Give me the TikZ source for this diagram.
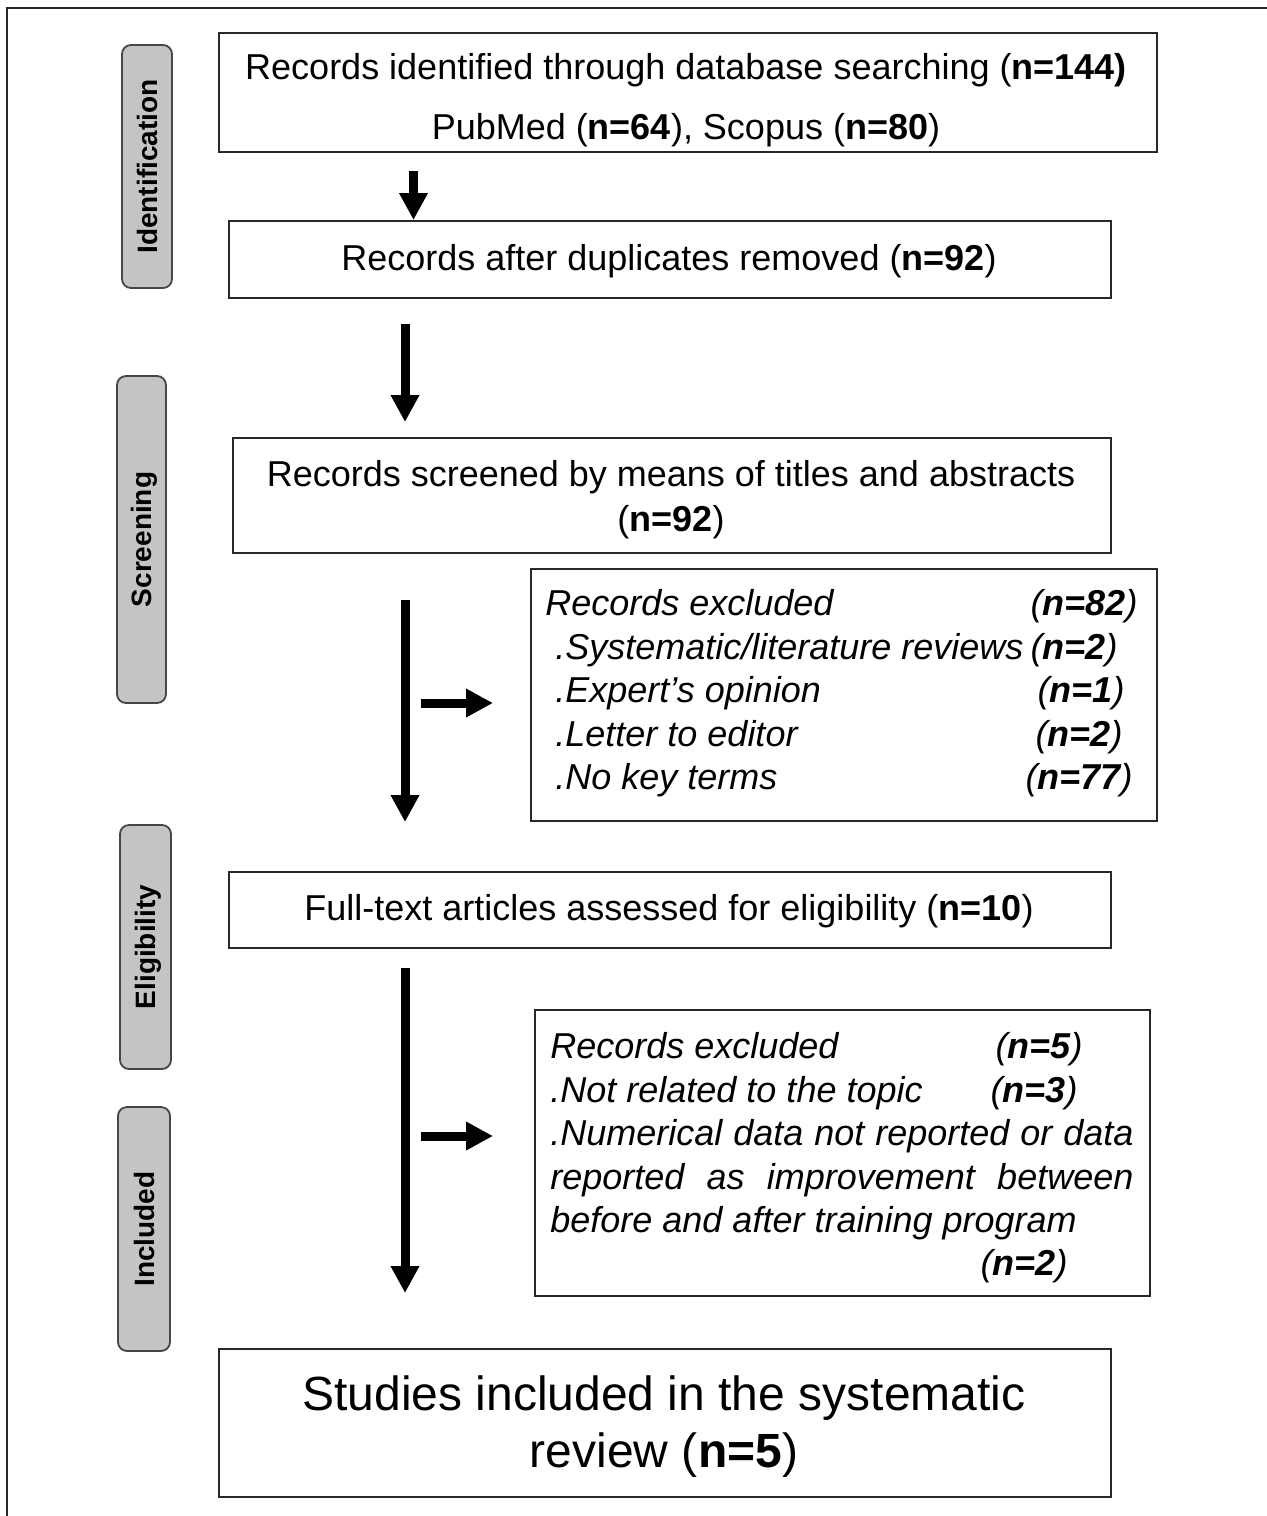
\documentclass[tikz,border=0pt]{standalone}
\usepackage{fontspec}
\setmainfont{Liberation Sans}
\usetikzlibrary{arrows.meta}
\definecolor{phasefill}{RGB}{196,196,196}
\definecolor{phaseline}{RGB}{70,70,70}
\definecolor{boxline}{RGB}{40,40,40}
\newcommand{\nb}[1]{\textbf{#1}}
\begin{document}
\begin{tikzpicture}[x=0.5pt,y=-0.5pt,
  box/.style={draw=boxline, line width=1pt, inner sep=0pt, anchor=north west, fill=white},
  phase/.style={draw=phaseline, line width=0.9pt, fill=phasefill, rounded corners=4.5pt, inner sep=0pt,
    rotate=90, font=\fontsize{14}{16}\selectfont\bfseries, text height=10pt, text depth=0pt},
  txt/.style={inner sep=0pt, text height=12.9pt, text depth=0pt, font=\fontsize{18}{21}\selectfont},
  itx/.style={txt, font=\fontsize{18}{21}\selectfont\itshape},
  bigtxt/.style={inner sep=0pt, text height=17.2pt, text depth=0pt, font=\fontsize{24}{28}\selectfont},
  flow/.style={line width=4.5pt, -{Triangle[width=13.5pt,length=13.5pt]}},
  frame/.style={line width=1pt, draw=boxline}
]
\useasboundingbox (0,0) rectangle (1267,1516);
% outer frame (top and left edges)
\draw[frame] (7,1516) -- (7,8) -- (1267,8);

% phase labels
\node[phase, minimum width=121.5pt, minimum height=25pt] (pid) at (147,166.5) {Identification};
\node[phase, minimum width=163.5pt, minimum height=24.5pt] (pscr) at (141.5,539.5) {Screening};
\node[phase, minimum width=122pt, minimum height=25.5pt] (pelg) at (145.5,947) {Eligibility};
\node[phase, minimum width=122pt, minimum height=26pt] (pinc) at (144,1229) {Included};

% boxes
\node[box, minimum width=469pt, minimum height=59.5pt] (b1) at (218,32) {};
\node[box, minimum width=441pt, minimum height=38.5pt] (b2) at (228,220) {};
\node[box, minimum width=439pt, minimum height=57.5pt] (b3) at (232,437) {};
\node[box, minimum width=313pt, minimum height=126pt] (b4) at (530,568) {};
\node[box, minimum width=441pt, minimum height=38pt] (b5) at (228,871) {};
\node[box, minimum width=307.5pt, minimum height=143pt] (b6) at (534,1009) {};
\node[box, minimum width=446pt, minimum height=74pt] (b7) at (218,1348) {};

% box texts
\node[txt] (t1a) at (686,67) {Records identified through database searching (\nb{n=144)}};
\node[txt] (t1b) at (686,127) {PubMed (\nb{n=64}), Scopus (\nb{n=80})};
\node[txt] (t2) at (669,258) {Records after duplicates removed (\nb{n=92})};
\node[txt] (t3a) at (671,474) {Records screened by means of titles and abstracts};
\node[txt] (t3b) at (671,519) {(\nb{n=92})};
\node[txt] (t5) at (669,908) {Full-text articles assessed for eligibility (\nb{n=10})};
\node[bigtxt] (t7a) at (664,1393) {Studies included in the systematic};
\node[bigtxt] (t7b) at (664,1450) {review (\nb{n=5})};

% exclusion box 1
\node[itx, anchor=west] (e1a) at (545,603) {Records excluded};
\node[itx, anchor=east] (e1b) at (1138,603) {(\nb{n=82})};
\node[itx, anchor=west] (e2a) at (555,647) {.Systematic/literature reviews};
\node[itx, anchor=east] (e2b) at (1118,647) {(\nb{n=2})};
\node[itx, anchor=west] (e3a) at (555,690) {.Expert’s opinion};
\node[itx, anchor=east] (e3b) at (1125,690) {(\nb{n=1})};
\node[itx, anchor=west] (e4a) at (555,734) {.Letter to editor};
\node[itx, anchor=east] (e4b) at (1123,734) {(\nb{n=2})};
\node[itx, anchor=west] (e5a) at (555,777) {.No key terms};
\node[itx, anchor=east] (e5b) at (1133,777) {(\nb{n=77})};

% exclusion box 2
\node[itx, anchor=west] (f1a) at (550,1046) {Records excluded};
\node[itx, anchor=east] (f1b) at (1083,1046) {(\nb{n=5})};
\node[itx, anchor=west] (f2a) at (550,1090) {.Not related to the topic};
\node[itx, anchor=east] (f2b) at (1078,1090) {(\nb{n=3})};
\node[itx, anchor=west] (f3) at (550,1133) {\makebox[291.5pt][s]{.Numerical data not reported or data}};
\node[itx, anchor=west] (f4) at (550,1177) {\makebox[291.5pt][s]{reported as improvement between}};
\node[itx, anchor=west] (f5) at (550,1220) {before and after training program};
\node[itx, anchor=east] (f6) at (1068,1263) {(\nb{n=2})};

% arrow axis coordinates
\coordinate (ax1) at (413.5,0);
\coordinate (ax2) at (405,0);
\coordinate (h1) at (405,703);
\coordinate (h2) at (405,1136);

% vertical flow arrows
\draw[flow, shorten <=9pt] (ax1 |- b1.south) -- (ax1 |- b2.north);
\draw[flow, shorten <=12.5pt, shorten >=7.5pt] (ax2 |- b2.south) -- (ax2 |- b3.north);
\draw[flow, shorten <=23pt, shorten >=24.5pt] (ax2 |- b3.south) -- (ax2 |- b5.north);
\draw[flow, shorten <=9.5pt, shorten >=27.5pt] (ax2 |- b5.south) -- (ax2 |- b7.north);
% horizontal exclusion arrows
\draw[flow, shorten <=8pt, shorten >=18.5pt] (h1) -- (b4.west |- h1);
\draw[flow, shorten <=8pt, shorten >=20.5pt] (h2) -- (b6.west |- h2);
\end{tikzpicture}
\end{document}
